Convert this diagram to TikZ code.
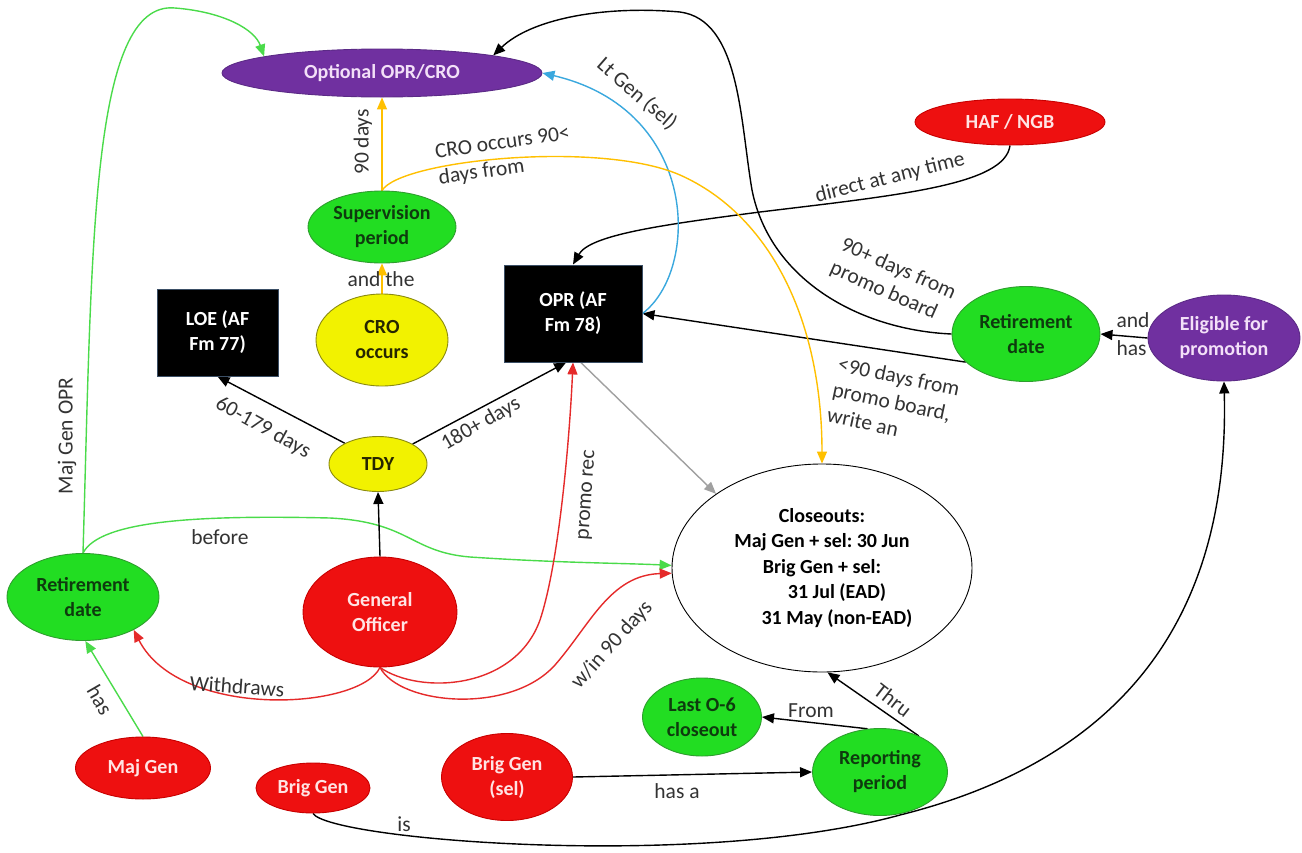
\documentclass[tikz,border=0pt]{standalone}
\usepackage{fontspec}
\setmainfont{Carlito}
\usetikzlibrary{shapes.geometric,arrows.meta}
\pgfdeclarelayer{paper}
\pgfdeclarelayer{back}
\pgfsetlayers{paper,back,main}
\frenchspacing

\definecolor{grfill}{HTML}{22DD22}
\definecolor{grline}{HTML}{2E9E2E}
\definecolor{grtext}{HTML}{0E3B0E}
\definecolor{rdfill}{HTML}{EE1010}
\definecolor{rdline}{HTML}{C80000}
\definecolor{rdtext}{HTML}{FFE4E4}
\definecolor{pufill}{HTML}{7030A0}
\definecolor{puline}{HTML}{5B2A86}
\definecolor{putext}{HTML}{F3E0F8}
\definecolor{yefill}{HTML}{F2F200}
\definecolor{yeline}{HTML}{8A8A10}
\definecolor{yetext}{HTML}{262600}
\definecolor{boxline}{HTML}{3B4F66}
\definecolor{lbltext}{HTML}{333333}
\definecolor{egreen}{HTML}{4ADB4A}
\definecolor{ered}{HTML}{E52A2A}
\definecolor{eyellow}{HTML}{FFC000}
\definecolor{eblue}{HTML}{3AA8DE}
\definecolor{egray}{HTML}{A0A0A0}

\tikzset{
  base/.style={font=\fontsize{20}{25}\selectfont\bfseries, align=center, inner sep=0pt},
  oval/.style={base, ellipse, line width=0.9pt},
  gr/.style={oval, fill=grfill, draw=grline, text=grtext},
  rd/.style={oval, fill=rdfill, draw=rdline, text=rdtext},
  pu/.style={oval, fill=pufill, draw=puline, text=putext},
  ye/.style={oval, fill=yefill, draw=yeline, text=yetext},
  wh/.style={oval, fill=white, draw=black, text=black},
  box/.style={base, rectangle, fill=black, draw=boxline, text=white, line width=0.9pt},
  lbl/.style={font=\fontsize{21.5}{26}\selectfont, text=lbltext, inner sep=0pt, align=center},
  arr/.style={-{Triangle[length=12pt,width=10pt]}, line width=1.4pt},
  kline/.style={arr, draw=black},
  gline/.style={arr, draw=egreen},
  rline/.style={arr, draw=ered},
  yline/.style={arr, draw=eyellow},
  bline/.style={arr, draw=eblue},
  hline/.style={arr, draw=egray},
}

\begin{document}
\begin{tikzpicture}[x=1pt,y=-1pt]
\begin{pgfonlayer}{paper}
\fill[white] (0,0) rectangle (1302,852);
\end{pgfonlayer}
\useasboundingbox (0,0) rectangle (1302,852);

% concepts
\node[pu, minimum width=320pt, minimum height=48pt] (opt) at (382,73) {Optional OPR/CRO};
\node[rd, minimum width=190pt, minimum height=46pt] (haf) at (1010,122) {HAF / NGB};
\node[gr, minimum width=148pt, minimum height=72pt] (sup) at (382,227) {Supervision\\period};
\node[ye, minimum width=132pt, minimum height=92pt] (cro) at (382,340) {CRO\\occurs};
\node[box, minimum width=121pt, minimum height=87pt] (loe) at (217.5,332.5) {LOE (AF\\Fm 77)};
\node[box, minimum width=138pt, minimum height=97pt] (opr) at (573,313.5) {OPR (AF\\Fm 78)};
\node[ye, minimum width=98pt, minimum height=55pt] (tdy) at (378,464) {TDY};
\node[gr, minimum width=148pt, minimum height=95pt] (rret) at (1026,334) {Retirement\\date};
\node[pu, minimum width=152pt, minimum height=86pt] (elig) at (1224,338) {Eligible for\\promotion};
\node[wh, minimum width=300pt, minimum height=208pt, font=\fontsize{20}{25.5}\selectfont\bfseries] (close) at (822,568)
  {Closeouts:\\Maj Gen + sel: 30 Jun\\Brig Gen + sel:\\\hspace*{30pt}31 Jul (EAD)\\\hspace*{30pt}31 May (non-EAD)};
\node[gr, minimum width=152pt, minimum height=87pt] (lret) at (83,597) {Retirement\\date};
\node[rd, minimum width=154pt, minimum height=110pt] (gen) at (380,612) {General\\Officer};
\node[rd, minimum width=135pt, minimum height=62pt] (majgen) at (143,768) {Maj Gen};
\node[rd, minimum width=114pt, minimum height=50pt] (brig) at (313,788) {Brig Gen};
\node[rd, minimum width=131pt, minimum height=87pt] (brigsel) at (507,777) {Brig Gen\\(sel)};
\node[gr, minimum width=119pt, minimum height=78pt] (last) at (702,717) {Last O-6\\closeout};
\node[gr, minimum width=135pt, minimum height=87pt] (rep) at (880,772) {Reporting\\period};

% links and their phrases
\begin{pgfonlayer}{back}
% green
\draw[gline] (lret.north) .. controls (92,250) and (90,0) .. (175,8)
  .. controls (225,12) and (255,30) .. (opt.172);
\node[lbl, rotate=90] (tMGO) at (67,436) {Maj Gen OPR};
\draw[gline] (lret.north) .. controls (100,520) and (200,515) .. (330,518)
  .. controls (410,522) and (410,552) .. (470,557)
  .. controls (560,563) and (620,563) .. (close.179);
\node[lbl] (tBefore) at (220,537) {before};
\draw[gline] (majgen.north) -- (lret.-87);
\node[lbl, rotate=-60] (tHas) at (100,700) {has};

% black
\draw[kline] (rret.west) .. controls (860,330) and (770,280) .. (752,190)
  .. controls (740,120) and (740,20) .. (680,12)
  .. controls (600,5) and (530,20) .. (opt.9);
\node[lbl, align=left, rotate=-24] (t90p) at (893,281) {90+ days from\\promo board};
\draw[kline] (haf.south) .. controls (1005,185) and (900,195) .. (760,212)
  .. controls (660,225) and (590,235) .. (opr.north);
\node[lbl, rotate=14] (tDirect) at (890,178) {direct at any time};
\draw[kline] (rret.205) -- (opr.east);
\node[lbl, align=left, anchor=north west, rotate=-12] (t90m) at (840,356) {<90 days from\\promo board,\\write an};
\draw[kline] (elig.west) -- (rret.east);
\node[lbl, align=left, font=\fontsize{21.5}{28}\selectfont] (tAndHas) at (1133,334) {and\\has};
\draw[kline] (tdy.148) -- (loe.south);
\node[lbl, rotate=-29] (t60) at (263,428) {60-179 days};
\draw[kline] (tdy.30) -- (opr.262);
\node[lbl, rotate=30] (t180) at (481,424) {180+ days};
\draw[kline] (gen.north) -- (tdy.south);
\draw[kline] (brigsel.east) -- (rep.west);
\node[lbl] (tHasA) at (677,791) {has a};
\draw[kline] (rep.106) -- (last.east);
\node[lbl] (tFrom) at (811,711) {From};
\draw[kline] (rep.43) -- (close.-87);
\node[lbl, rotate=-38] (tThru) at (893,700) {Thru};
\draw[kline] (brig.south) .. controls (330,840) and (700,870) .. (900,815)
  .. controls (1120,760) and (1230,620) .. (elig.south);
\node[lbl] (tIs) at (404,824) {is};

% blue and grey
\draw[bline] (opr.east) .. controls (700,270) and (700,110) .. (opt.east);
\node[lbl, rotate=-41] (tLt) at (637,94) {Lt Gen (sel)};
\draw[hline] (opr.279) -- (close.145);

% yellow
\draw[yline] (sup.north) -- (opt.south);
\node[lbl, rotate=90] (t90d) at (363,142) {90 days};
\draw[yline] (cro.north) -- (sup.south);
\node[lbl] (tAndThe) at (381,279) {and the};
\draw[yline] (sup.north) .. controls (400,160) and (600,140) .. (680,175)
  .. controls (770,215) and (822,320) .. (close.north);
\node[lbl, align=left, anchor=west, rotate=8] (tCRO) at (437,166) {CRO occurs 90<\\days from};

% red
\draw[rline] (gen.south) .. controls (420,695) and (515,690) .. (540,620)
  .. controls (560,560) and (570,430) .. (opr.south);
\node[lbl, rotate=86] (tPromo) at (588,495) {promo rec};
\draw[rline] (gen.south) .. controls (400,705) and (510,715) .. (555,665)
  .. controls (590,625) and (610,575) .. (close.182);
\node[lbl, rotate=48] (tWin) at (612,645) {w/in 90 days};
\draw[rline] (gen.south) .. controls (360,710) and (180,720) .. (lret.-33);
\node[lbl, rotate=-4] (tWith) at (237,686) {Withdraws};
\end{pgfonlayer}
\end{tikzpicture}
\end{document}
